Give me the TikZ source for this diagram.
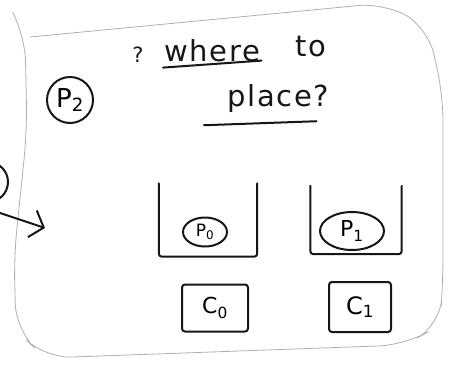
\documentclass[tikz,border=0pt]{standalone}
\usepackage{fontspec}
\setmainfont{DejaVu Sans}
\newfontfamily\handfont[LetterSpace=6]{DejaVu Sans}
\usetikzlibrary{arrows.meta,positioning,shapes.geometric}
\definecolor{inkblack}{RGB}{22,22,22}
\definecolor{pencilgray}{RGB}{175,175,175}
\tikzset{
  ink/.style={draw=inkblack, line width=2pt},
  procnode/.style={ink, ellipse, inner sep=0pt},
  slotnode/.style={inner sep=0pt},
  corebox/.style={ink, rectangle, rounded corners=3pt, inner sep=0pt},
  hand/.style={font=\handfont\fontsize{#1}{#1}\selectfont, text=inkblack, inner sep=1pt}
}

\begin{document}
\begin{tikzpicture}[x=1pt,y=-1pt,line cap=round,line join=round]
    \useasboundingbox (0,0) rectangle (449,370);
    % pencil outline
    \draw[pencilgray, line width=0.8pt, rounded corners=26pt]
         (13,13) -- (25,35) -- (27,130) -- (14,257) -- (16,330) -- (45,358)
         -- (405,345) -- (440,325) -- (443,280) -- (443,95) -- (428,28) -- (385,3) -- (30,37);
    % process coming in from the left
    \node[ink, circle, minimum size=40pt] (pin) at (-12,182) {};
    \coordinate (inflow) at (0,213);
    \coordinate (inhead) at (45,228);
    \draw[ink, -{Straight Barb[length=12pt,width=28pt,line width=2pt]}] (inflow) -- (inhead);
    % the waiting process and the question
    \node[ink, circle, minimum size=46pt, inner sep=0pt, font=\fontsize{26}{26}\selectfont] (p2) at (70,100) {P\textsubscript{2}};
    \node[hand=21] (ask) at (138,55) {?};
    \node[hand=29, anchor=base west] (where) at (163,61) {where};
    \node[hand=29, anchor=base west] (to) at (294,56) {to};
    \node[hand=29, anchor=base west] (place) at (226,106) {place?};
    \draw[ink] ([yshift=-5pt]where.south west) -- ([yshift=2pt]where.south east);
    \draw[ink] ([xshift=-22pt,yshift=-12pt]place.south west) -- ([xshift=-14pt,yshift=-8pt]place.south east);
    % run slots on each core
    \node[slotnode, minimum width=98pt, minimum height=73pt] (slot0) at (208,220) {};
    \node[slotnode, minimum width=91pt, minimum height=68pt] (slot1) at (356,220) {};
    \draw[ink, rounded corners=3pt] (slot0.north west) -- (slot0.south west) -- (slot0.south east) -- (slot0.north east);
    \draw[ink, rounded corners=3pt] (slot1.north west) -- (slot1.south west) -- (slot1.south east) -- (slot1.north east);
    \node[procnode, minimum width=44pt, minimum height=29pt, font=\fontsize{17}{17}\selectfont] (p0) at (205,232) {P\textsubscript{0}};
    \node[procnode, minimum width=64pt, minimum height=38pt, font=\fontsize{22}{22}\selectfont] (p1) at (352,231) {P\textsubscript{1}};
    % cores
    \node[corebox, minimum width=66pt, minimum height=47pt, font=\fontsize{22}{22}\selectfont] (c0) at (215,308) {C\textsubscript{0}};
    \node[corebox, minimum width=62pt, minimum height=50pt, font=\fontsize{24}{24}\selectfont] (c1) at (360,307) {C\textsubscript{1}};
\end{tikzpicture}
\end{document}
